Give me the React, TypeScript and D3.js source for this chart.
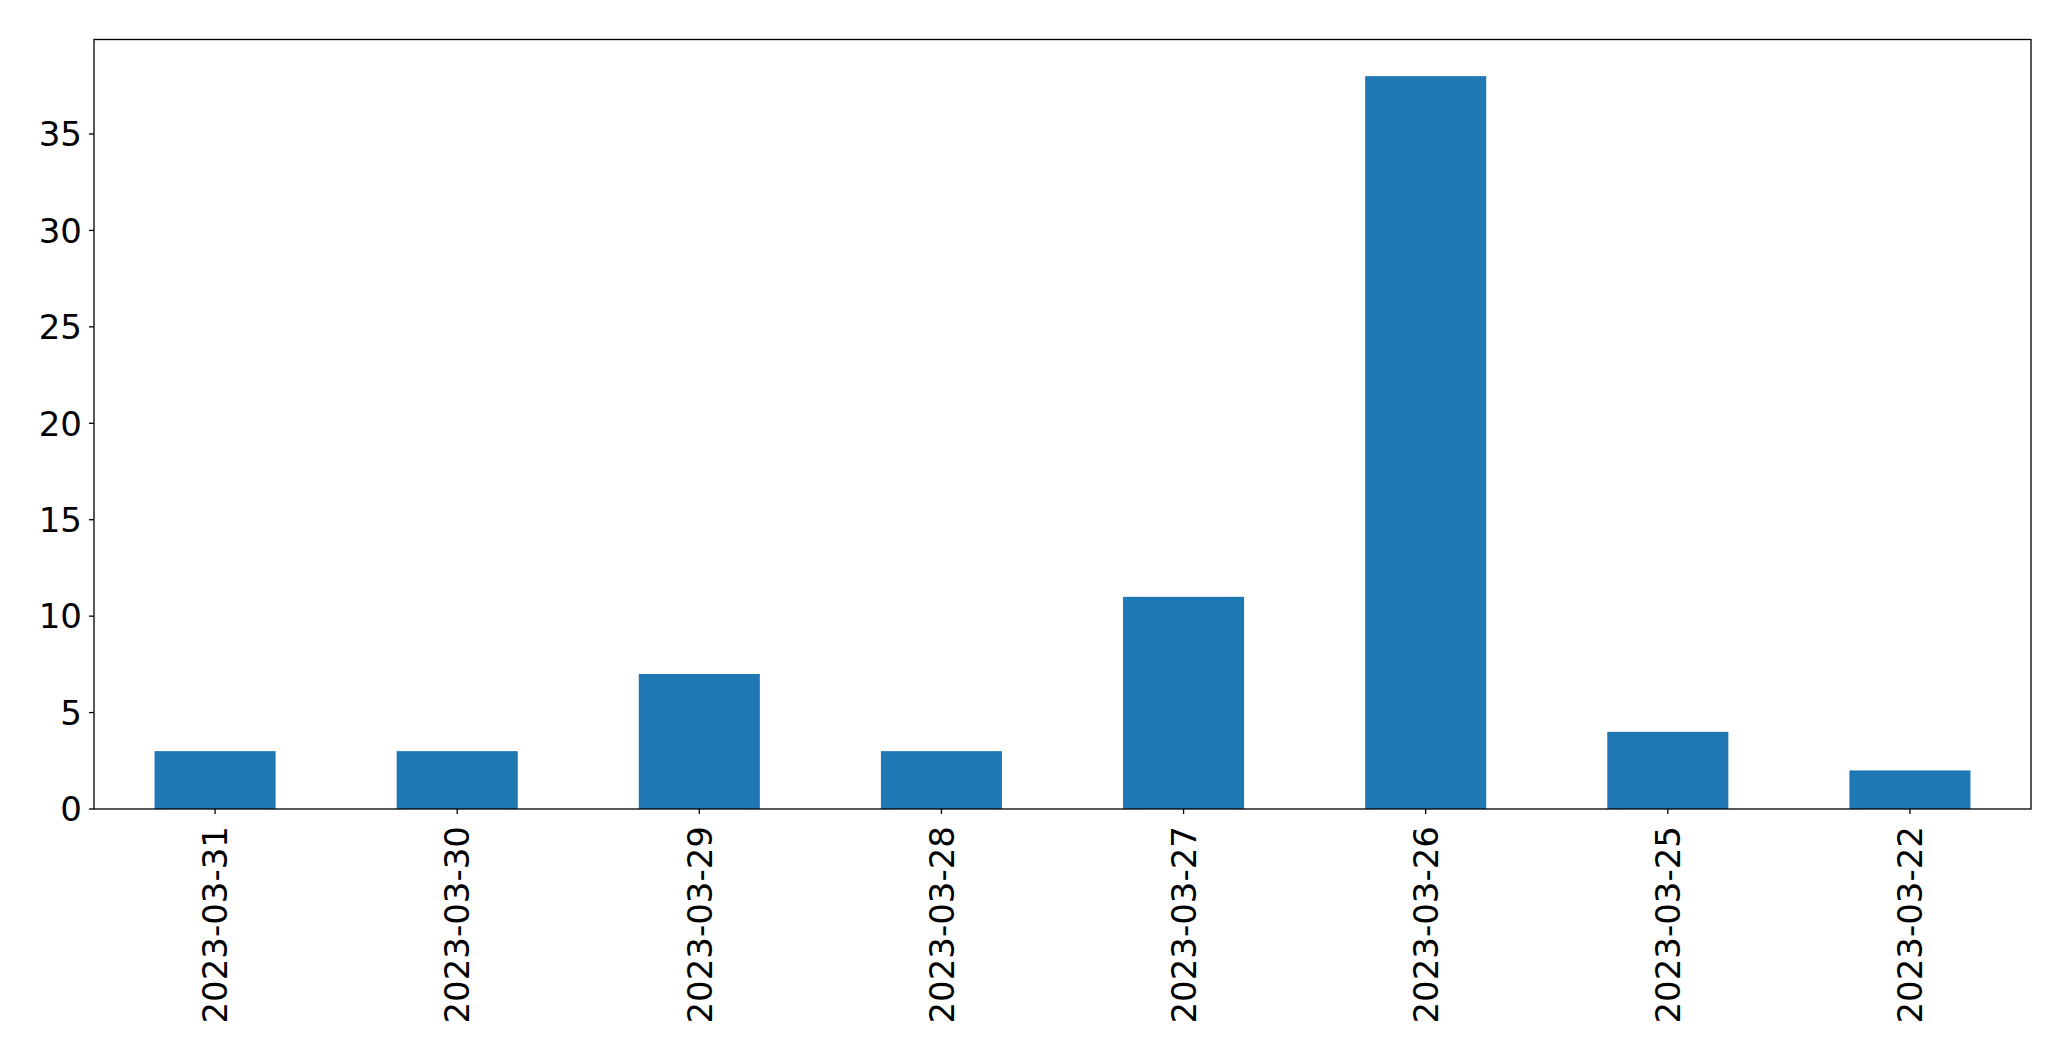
import React from "react";
import * as d3 from "d3";

const categories = ["2023-03-31", "2023-03-30", "2023-03-29", "2023-03-28", "2023-03-27", "2023-03-26", "2023-03-25", "2023-03-22"];
const values = [3, 3, 7, 3, 11, 38, 4, 2];
const yTicks = [0, 5, 10, 15, 20, 25, 30, 35];

const W = 2071;
const H = 1061;
const margin = { left: 94, right: 40, top: 39.5, bottom: 252 };

export default function App() {
  const x0 = margin.left;
  const x1 = W - margin.right;
  const y0 = H - margin.bottom;
  const y1 = margin.top;
  const x = d3.scaleLinear().domain([-0.5, categories.length - 0.5]).range([x0, x1]);
  const y = d3.scaleLinear().domain([0, d3.max(values)! * 1.05]).range([y0, y1]);
  const bw = x(0.25) - x(-0.25);
  const font = "DejaVu Sans, sans-serif";
  const fs = 34;
  return (
    <svg width={W} height={H} style={{ position: "absolute", left: 0, top: 0 }}>
      <rect x={0} y={0} width={W} height={H} fill="white" />
      {values.map((v, i) => (
        <rect key={i} x={x(i) - bw / 2} y={y(v)} width={bw} height={y(0) - y(v)} fill="#1f77b4" />
      ))}
      {yTicks.map((t) => (
        <g key={t}>
          <line x1={x0 - 5} x2={x0} y1={y(t)} y2={y(t)} stroke="black" strokeWidth={1.3} />
          <text x={x0 - 12} y={y(t)} dy="0.36em" textAnchor="end" fontFamily={font} fontSize={fs} fill="black">{t}</text>
        </g>
      ))}
      {categories.map((c, i) => (
        <g key={c}>
          <line x1={x(i)} x2={x(i)} y1={y0} y2={y0 + 5} stroke="black" strokeWidth={1.3} />
          <text transform={`translate(${x(i)},${y0 + 17}) rotate(-90)`} dy="0.36em" textAnchor="end" fontFamily={font} fontSize={fs} fill="black">{c}</text>
        </g>
      ))}
      <rect x={x0} y={y1} width={x1 - x0} height={y0 - y1} fill="none" stroke="black" strokeWidth={1.3} />
    </svg>
  );
}
